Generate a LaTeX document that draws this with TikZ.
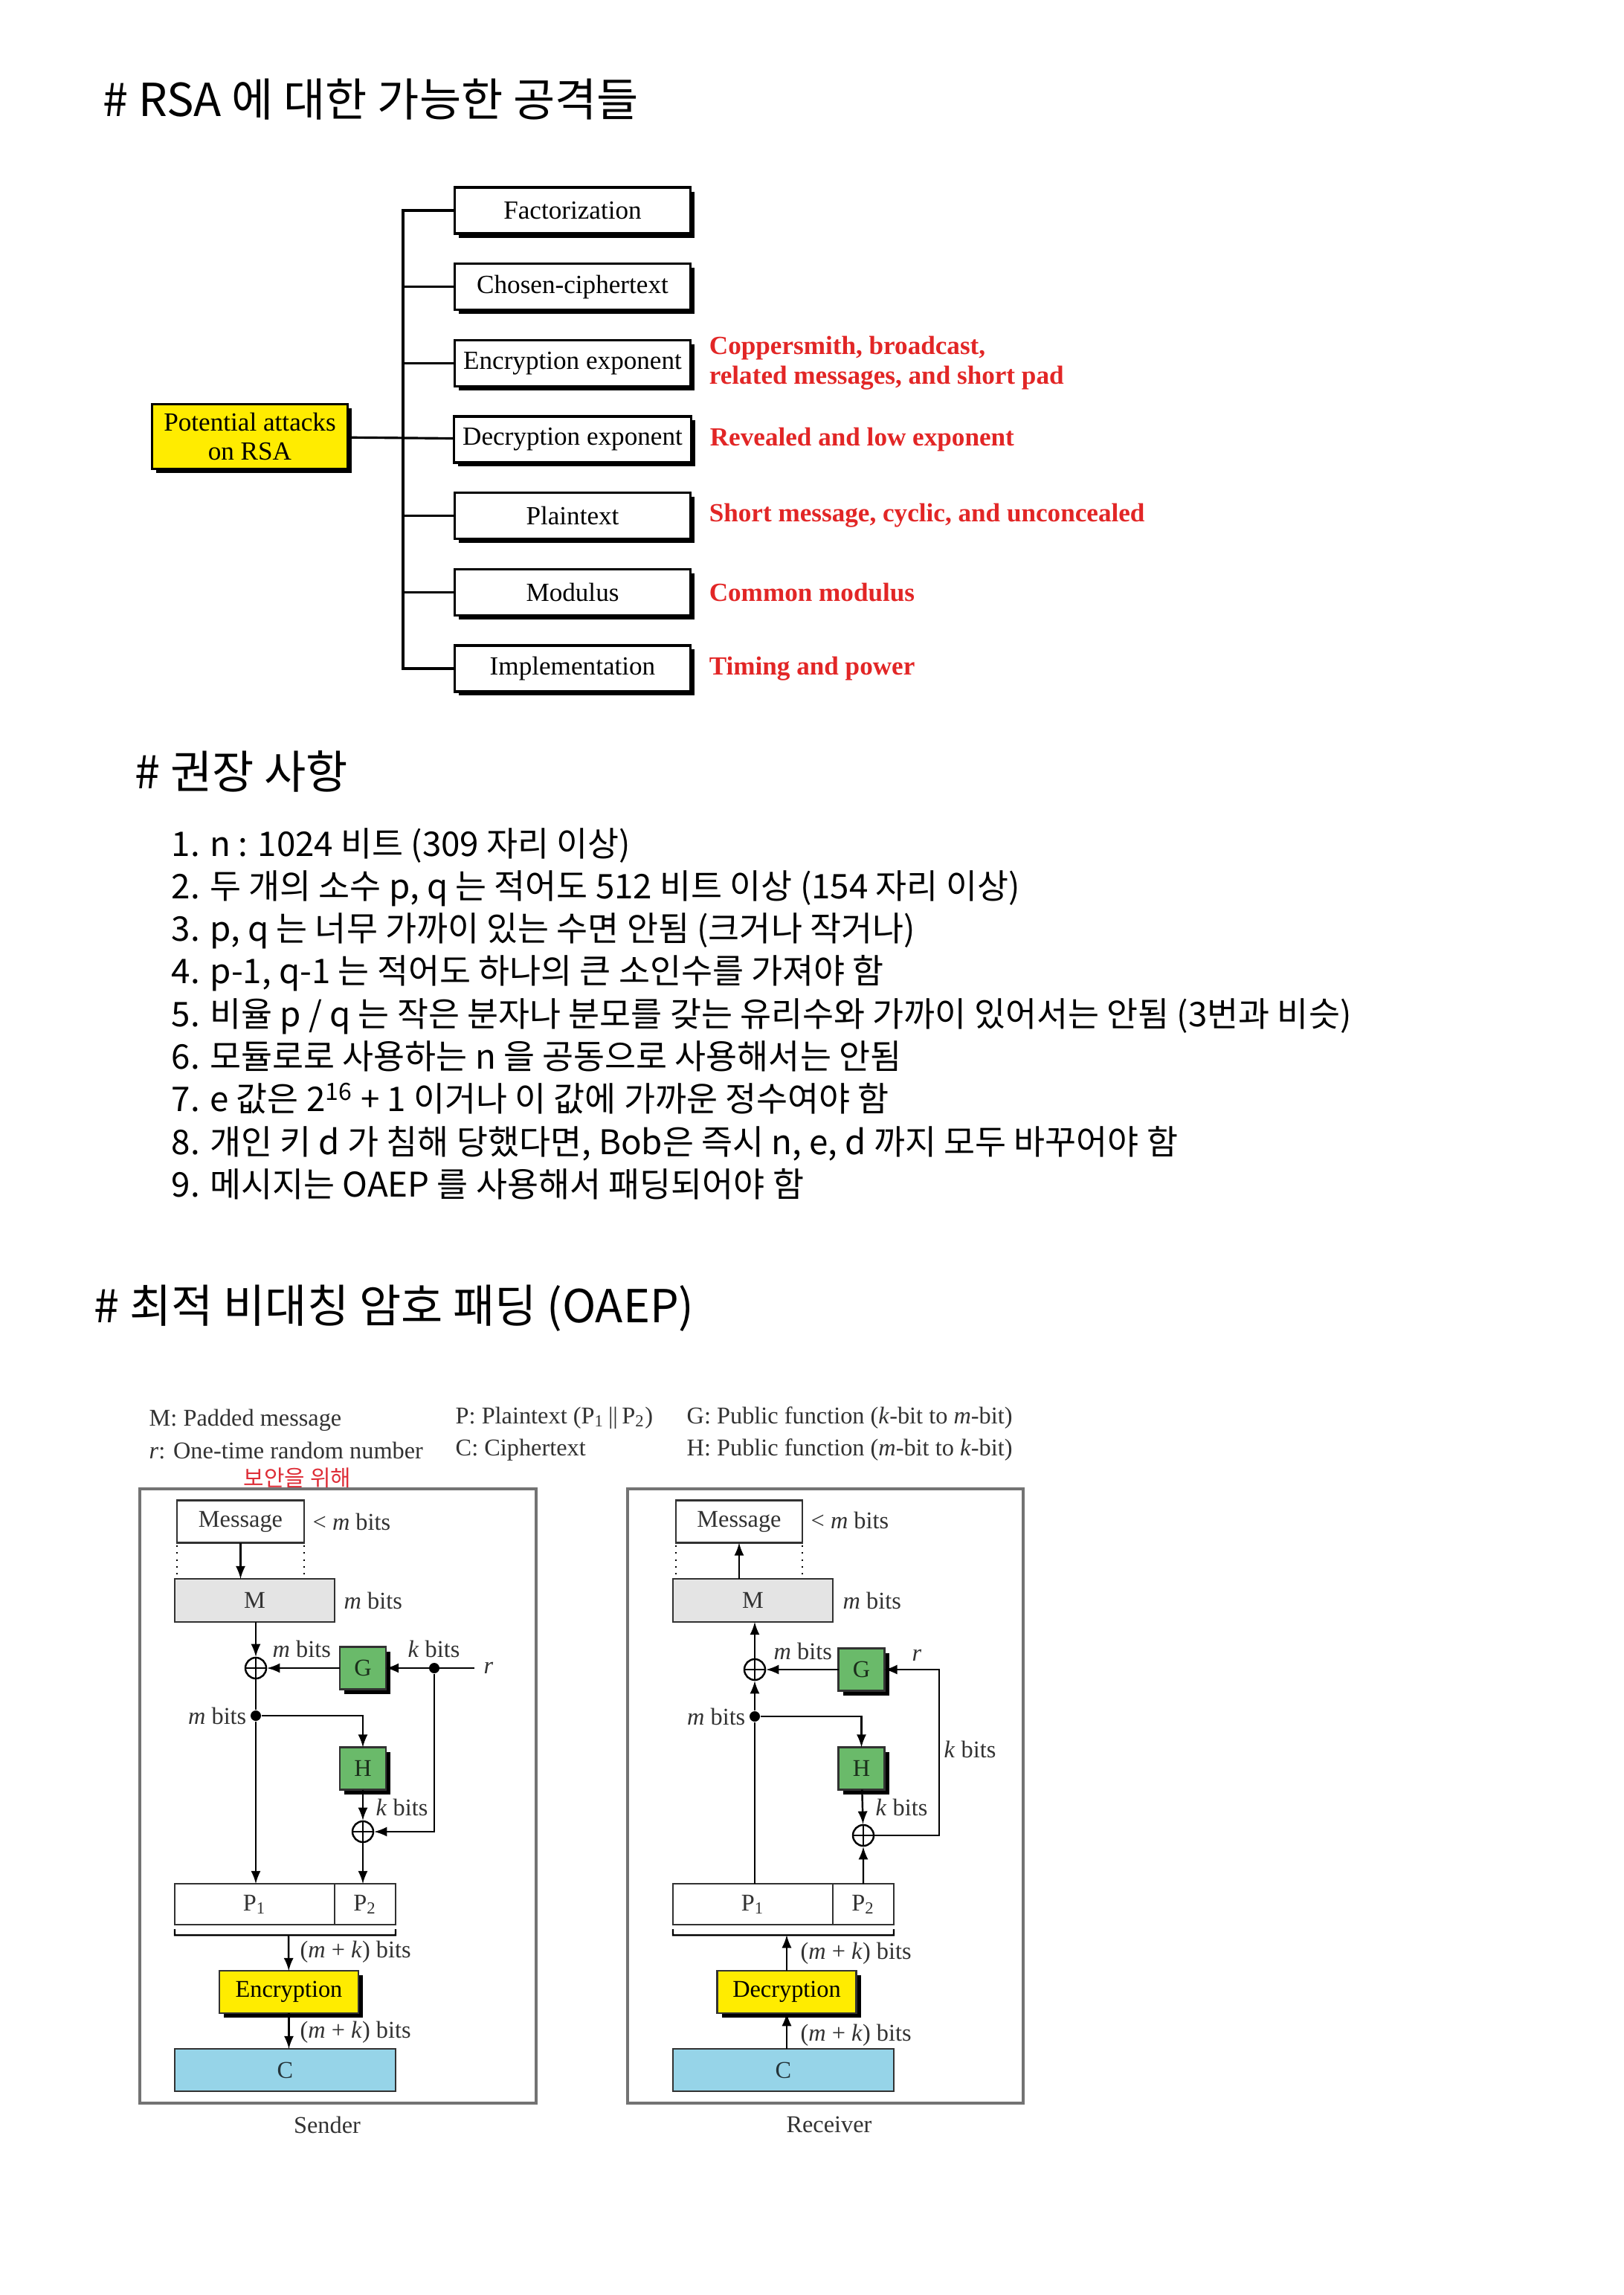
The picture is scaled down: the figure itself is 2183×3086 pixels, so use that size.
\documentclass[tikz,border=0pt]{standalone}
\usepackage{fontspec}
\usepackage{tikz}
\usetikzlibrary{shapes,arrows,positioning,shadows}
\setmainfont{Liberation Serif}
\newfontfamily\kor{Noto Sans CJK KR}
\definecolor{rootyellow}{RGB}{255,236,0}
\definecolor{attackred}{RGB}{226,38,38}
\definecolor{funcgreen}{RGB}{106,186,106}
\definecolor{cipherblue}{RGB}{150,212,232}
\definecolor{paddedgray}{RGB}{228,228,228}
\definecolor{framegray}{RGB}{115,115,115}
\definecolor{scanink}{RGB}{50,50,50}
\definecolor{penred}{RGB}{222,45,55}

\begin{document}
\begin{tikzpicture}[
    x=0.1mm, y=-0.1mm,
    every node/.style={align=center},
    heading/.style={anchor=base west, inner sep=0pt, font=\kor\fontsize{17.4}{20}\selectfont},
    listitem/.style={anchor=base west, inner sep=0pt, font=\kor\fontsize{13}{15.5}\selectfont},
    attackbox/.style={rectangle, draw, line width=0.9pt, fill=white, minimum width=31.7mm, minimum height=6.2mm, font=\fontsize{10}{11.1}\selectfont, drop shadow={shadow xshift=0.55mm, shadow yshift=-0.55mm, opacity=1, fill=black}},
    rootbox/.style={attackbox, fill=rootyellow, minimum width=26.3mm, minimum height=7.9mm},
    weakness/.style={inner sep=0pt, align=left, text=attackred, font=\bfseries\fontsize{10}{11.4}\selectfont},
    legend/.style={anchor=west, inner sep=0pt, text=scanink, font=\fontsize{9.2}{11}\selectfont},
    bits/.style={legend},
    datafield/.style={rectangle, draw=scanink, line width=0.7pt, minimum height=5.7mm, outer sep=0pt, text=scanink, font=\fontsize{9.2}{11}\selectfont},
    funcbox/.style={datafield, fill=funcgreen, text=funcgreen!25!black, minimum width=6.2mm, drop shadow={shadow xshift=0.6mm, shadow yshift=-0.6mm, opacity=1, fill=black}},
    cryptbox/.style={datafield, fill=rootyellow, text=black, minimum width=18.7mm, drop shadow={shadow xshift=0.6mm, shadow yshift=-0.6mm, opacity=1, fill=black}},
    xorop/.style={circle, draw=black, line width=0.7pt, minimum size=2.8mm, inner sep=0pt, path picture={\draw[line width=0.5pt] (path picture bounding box.north) -- (path picture bounding box.south) (path picture bounding box.west) -- (path picture bounding box.east);}},
    junc/.style={circle, fill=black, minimum size=1.4mm, inner sep=0pt},
    wire/.style={line width=0.7pt},
    flow/.style={wire, ->, >=latex},
    frame/.style={draw=framegray, line width=1.1pt}
]
\fill[white] (0,0) rectangle (2183,3086);
\useasboundingbox (0,0) rectangle (2183,3086);

% Attacks on RSA
\node[heading] (atkhead) at (138,157) {\# RSA 에 대한 가능한 공격들};

\node[attackbox] (fac) at (770,283) {Factorization};
\node[attackbox, below=3.75mm of fac] (cho) {Chosen-ciphertext};
\node[attackbox, below=3.75mm of cho] (enc) {Encryption exponent};
\node[attackbox, below=3.75mm of enc] (dec) {Decryption exponent};
\node[attackbox, below=3.75mm of dec] (pla) {Plaintext};
\node[attackbox, below=3.75mm of pla] (mod) {Modulus};
\node[attackbox, below=3.75mm of mod] (imp) {Implementation};
\node[rootbox] (root) at (336,587) {Potential attacks\\on RSA};

\node[weakness, right=2.3mm of enc] (encatk) {Coppersmith, broadcast,\\related messages, and short pad};
\node[weakness, right=2.3mm of dec] (decatk) {Revealed and low exponent};
\node[weakness, right=2.3mm of pla] (plaatk) {Short message, cyclic, and unconcealed};
\node[weakness, right=2.3mm of mod] (modatk) {Common modulus};
\node[weakness, right=2.3mm of imp] (impatk) {Timing and power};

\draw[line width=0.9pt] (root) -- (dec);
\draw[line width=0.9pt] (fac.west) -- ++(-68,0) |- (imp.west);
\foreach \n in {cho,enc,pla,mod}
    \draw[line width=0.9pt] (\n.west) -- ++(-68,0);

% Recommendations
\node[heading] (rechead) at (181,1060) {\# 권장 사항};
\foreach \txt [count=\i] in {
    {1. n : 1024 비트 (309 자리 이상)},
    {2. 두 개의 소수 p, q 는 적어도 512 비트 이상 (154 자리 이상)},
    {3. p, q 는 너무 가까이 있는 수면 안됨 (크거나 작거나)},
    {4. p-1, q-1 는 적어도 하나의 큰 소인수를 가져야 함},
    {5. 비율 p / q 는 작은 분자나 분모를 갖는 유리수와 가까이 있어서는 안됨 (3번과 비슷)},
    {6. 모듈로로 사용하는 n 을 공동으로 사용해서는 안됨},
    {7. e 값은 2\textsuperscript{16} + 1 이거나 이 값에 가까운 정수여야 함},
    {8. 개인 키 d 가 침해 당했다면, Bob은 즉시 n, e, d 까지 모두 바꾸어야 함},
    {9. 메시지는 OAEP 를 사용해서 패딩되어야 함}}
    \node[listitem] (rec\i) at (230,1093.7+57.3*\i) {\txt};

% OAEP
\node[heading] (oaephead) at (126,1778) {\# 최적 비대칭 암호 패딩 (OAEP)};

\node[legend] (lgM) at (200,1910) {M: Padded message};
\node[legend] (lgr) at (200,1950) {\textit{r}: One-time random number};
\node[legend] (lgP) at (612,1907) {P: Plaintext (P\textsubscript{1}\,\textbar\textbar\,P\textsubscript{2})};
\node[legend] (lgC) at (612,1950) {C: Ciphertext};
\node[legend] (lgG) at (923,1907) {G: Public function (\textit{k}-bit to \textit{m}-bit)};
\node[legend] (lgH) at (923,1950) {H: Public function (\textit{m}-bit to \textit{k}-bit)};
\node[inner sep=0pt, text=penred, font=\kor\fontsize{8.5}{10}\selectfont] (memo) at (400,1987) {보안을 위해};

% Sender
\draw[frame] (188,2002) rectangle (721,2828);
\node[datafield, minimum width=17.1mm] (smsg) at (323.5,2046) {Message};
\node[bits] at (420,2046) {< \textit{m} bits};
\node[datafield, fill=paddedgray, minimum width=21.5mm, minimum height=5.8mm] (sM) at (342.5,2152) {M};
\node[bits] at (462,2152) {\textit{m} bits};
\draw[wire, dotted] ([yshift=-0.3mm]smsg.south west) -- ++(0,39);
\draw[wire, dotted] ([yshift=-0.3mm]smsg.south east) -- ++(0,39);
\draw[flow] (smsg) -- (smsg |- sM.north);

\node[xorop] (sx1) at (344,2243) {};
\node[funcbox] (sG) at (488,2243) {G};
\node[junc] (sr) at (584,2243) {};
\node[inner sep=1.2mm, text=scanink, font=\itshape\fontsize{9.2}{11}\selectfont] (srin) at (657,2243) {r};
\node[bits] at (548,2217) {\textit{k} bits};
\node[bits] at (366,2217) {\textit{m} bits};
\draw[flow] (sx1 |- sM.south) -- (sx1);
\draw[flow] (srin) -- (sG);
\draw[flow] (sG) -- (sx1);

\node[junc] (sd) at (344,2307) {};
\node[bits, anchor=east] at (332,2307) {\textit{m} bits};
\node[funcbox] (sH) at (488,2378) {H};
\node[xorop] (sx2) at (488,2463) {};
\node[bits] at (505,2430) {\textit{k} bits};
\draw[wire] (sx1) -- (sd);
\draw[flow] (sd) -| (sH);
\draw[flow] (sH) -- (sx2);
\draw[flow] (sr) |- (sx2);

\node[datafield, minimum width=21.5mm, minimum height=5.5mm] (sP1) at (342.5,2560.5) {P\textsubscript{1}};
\node[datafield, minimum width=8.2mm, minimum height=5.5mm, right=0mm of sP1] (sP2) {P\textsubscript{2}};
\draw[flow] (sd) -- (sd |- sP1.north);
\draw[flow] (sx2) -- (sx2 |- sP2.north);
\draw[wire] ([yshift=-0.6mm]sP1.south west) -- ++(0,8) -- ([yshift=-1.4mm]sP2.south east) -- ++(0,-8);
\coordinate (sbr) at (388,2602);

\node[cryptbox] (sEnc) at (388.5,2678.5) {Encryption};
\node[datafield, fill=cipherblue, text=cipherblue!25!black, minimum width=29.7mm] (sC) at (383.5,2783.5) {C};
\node[bits] at (403,2625) {(\textit{m} + \textit{k}) bits};
\node[bits] at (403,2733) {(\textit{m} + \textit{k}) bits};
\draw[flow] (sbr) -- (sEnc);
\draw[flow] (sEnc) -- (sEnc |- sC.north);
\node[text=scanink, font=\fontsize{9.2}{11}\selectfont] (sender) at (440,2857) {Sender};

% Receiver
\draw[frame] (844,2002) rectangle (1376,2828);
\node[datafield, minimum width=17mm] (rmsg) at (994,2046) {Message};
\node[bits] at (1090,2044) {< \textit{m} bits};
\node[datafield, fill=paddedgray, minimum width=21.5mm, minimum height=5.8mm] (rM) at (1012.5,2152) {M};
\node[bits] at (1133,2152) {\textit{m} bits};
\draw[wire, dotted] ([yshift=-0.3mm]rmsg.south west) -- ++(0,39);
\draw[wire, dotted] ([yshift=-0.3mm]rmsg.south east) -- ++(0,39);
\draw[flow] (rmsg |- rM.north) -- (rmsg);

\node[xorop] (rx1) at (1015,2245) {};
\node[funcbox] (rG) at (1158.5,2245) {G};
\coordinate (rcorner) at (1263,2245);
\node[bits] at (1040,2220) {\textit{m} bits};
\node[text=scanink, font=\itshape\fontsize{9.2}{11}\selectfont, inner sep=0pt] (rr) at (1233,2226) {r};
\draw[flow] (rx1) -- (rx1 |- rM.south);
\draw[flow] (rG) -- (rx1);

\node[junc] (rd) at (1015,2308) {};
\node[bits, anchor=east] at (1003,2308) {\textit{m} bits};
\node[funcbox] (rH) at (1158.5,2378) {H};
\node[xorop] (rx2) at (1161,2468) {};
\node[bits] at (1177,2430) {\textit{k} bits};
\node[bits] at (1269,2352) {\textit{k} bits};
\draw[flow] (rd) -- (rx1);
\draw[flow] (rd) -| (rH);
\draw[flow] (rH) -- (rx2);
\draw[flow] (rx2) -| (rcorner) -- (rG);

\node[datafield, minimum width=21.5mm, minimum height=5.5mm] (rP1) at (1012.5,2560.5) {P\textsubscript{1}};
\node[datafield, minimum width=8.2mm, minimum height=5.5mm, right=0mm of rP1] (rP2) {P\textsubscript{2}};
\draw[wire] (rd |- rP1.north) -- (rd);
\draw[flow] (rP2) -- (rx2);
\draw[wire] ([yshift=-0.6mm]rP1.south west) -- ++(0,8) -- ([yshift=-1.4mm]rP2.south east) -- ++(0,-8);
\coordinate (rbr) at (1058,2602);

\node[cryptbox] (rDec) at (1058,2678.5) {Decryption};
\node[datafield, fill=cipherblue, text=cipherblue!25!black, minimum width=29.7mm] (rC) at (1053.5,2783.5) {C};
\node[bits] at (1076,2627) {(\textit{m} + \textit{k}) bits};
\node[bits] at (1076,2737) {(\textit{m} + \textit{k}) bits};
\draw[flow] (rDec) -- (rbr);
\draw[flow] (rC.north -| rDec) -- (rDec);
\node[text=scanink, font=\fontsize{9.2}{11}\selectfont] (receiver) at (1115,2857) {Receiver};

\end{tikzpicture}
\end{document}
